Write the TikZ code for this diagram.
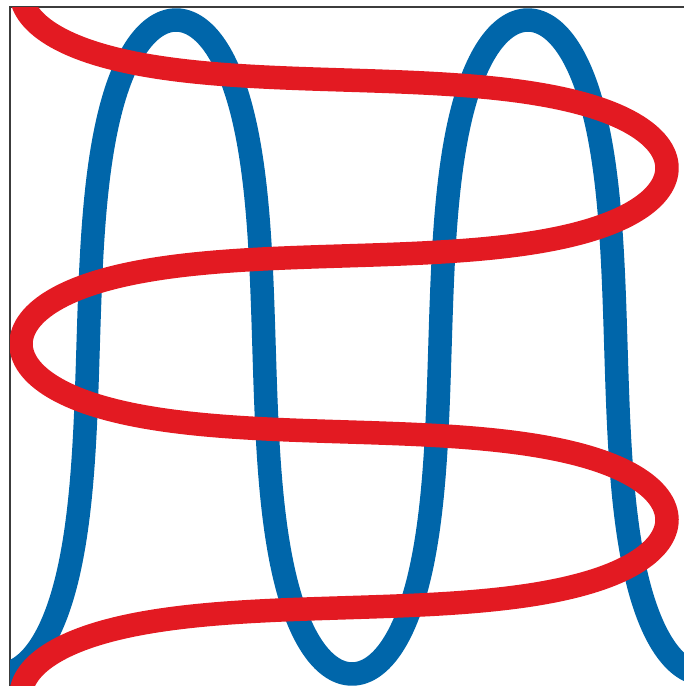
\documentclass[tikz,border=0pt]{standalone}
\usepackage{tikz}
\usetikzlibrary{calc}

\definecolor{curveblue}{RGB}{0,102,170}
\definecolor{curvered}{RGB}{227,26,34}
\definecolor{framegray}{RGB}{60,60,60}

\tikzset{
  frameline/.style={draw=framegray, line width=1.4pt},
  bluecurve/.style={draw=curveblue, line width=23.5pt},
  redcurve/.style={draw=curvered, line width=23.5pt}
}

\begin{document}
\begin{tikzpicture}[x=1pt, y=-1pt]

% Parameters
\def\W{684}
\def\H{686}
\def\B{56}
\def\k{0.82}

\useasboundingbox (0,0) rectangle (\W,\H);

% Frame
\draw[frameline] (10,\H) -- (10,7) -- (\W,7);

\begin{scope}
\clip (10,7.7) rectangle (\W,\H);

% Blue curve
\draw[bluecurve] plot[domain=-6.2832:6.2832, samples=500, variable=\t]
  ({352 + \B*(\t + \k*sin(\t r)*cos(\t r))}, {347 + 327*cos(\t r)});

% Red curve
\draw[redcurve] plot[domain=-3.1416:11.0, samples=500, variable=\t]
  ({344 + 323*sin(\t r)}, {80 + \B*(\t - \k*sin(\t r)*cos(\t r))});
\end{scope}

\end{tikzpicture}
\end{document}
